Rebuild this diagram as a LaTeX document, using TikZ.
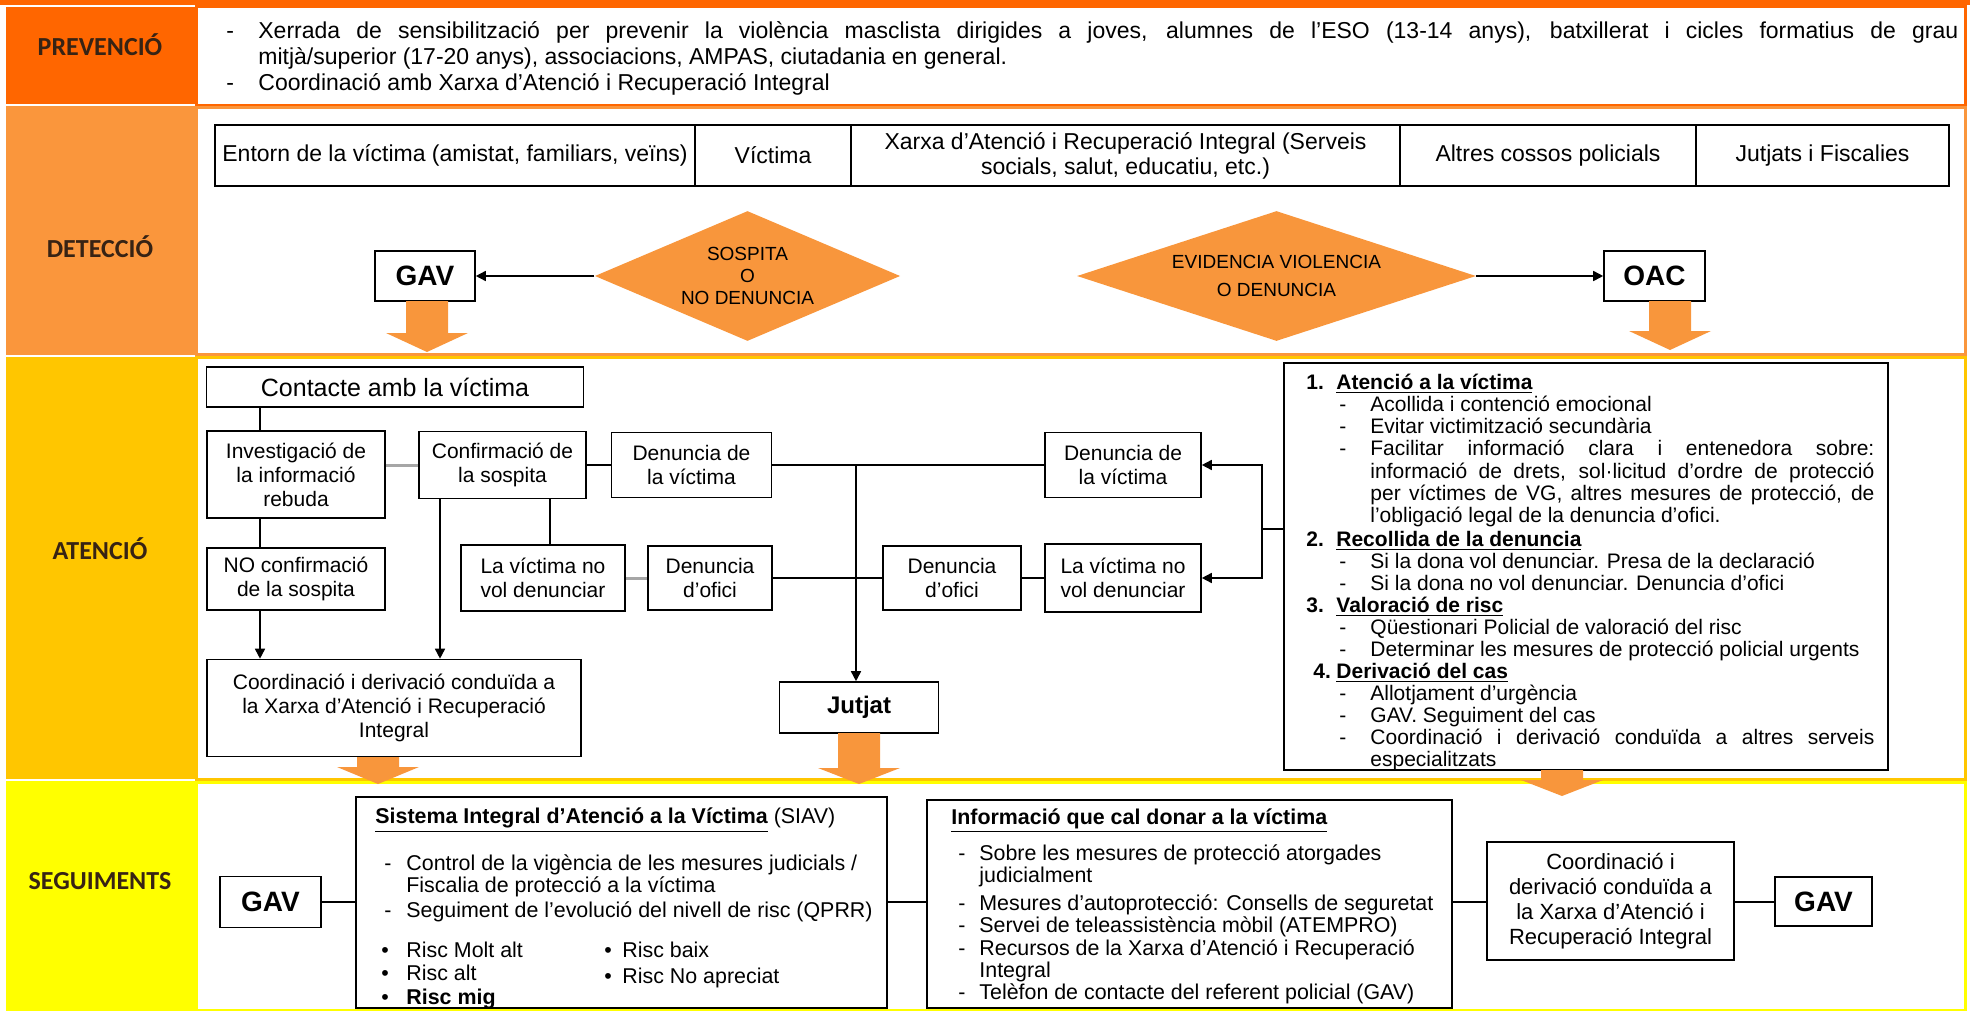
\documentclass[tikz,border=0pt]{standalone}
\usepackage{fontspec}
\setmainfont{Liberation Sans}
\newfontfamily\labelfont{Carlito}
\usepackage{tikz}
\usetikzlibrary{shapes.geometric,arrows.meta,positioning}

\definecolor{prevcol}{RGB}{255,102,0}
\definecolor{detcol}{RGB}{250,150,60}
\definecolor{atecol}{RGB}{255,198,0}
\definecolor{segcol}{RGB}{255,255,0}
\definecolor{boxorange}{RGB}{248,150,60}
\definecolor{labcol}{RGB}{55,35,20}

% x, top, start of head, tip
\newcommand{\blockarr}[4]{%
  \fill[boxorange] (#1-21,#2) -- (#1+21,#2) -- (#1+21,#3) -- (#1+41,#3)
    -- (#1,#4) -- (#1-41,#3) -- (#1-21,#3) -- cycle;}

\begin{document}
\begin{tikzpicture}[
  x=0.5pt, y=-0.5pt,
  band/.style={line width=1.5pt},
  lab/.style={font=\labelfont\bfseries\fontsize{13}{15}\selectfont, text=labcol},
  sz/.style 2 args={minimum width=#1*0.5pt, minimum height=#2*0.5pt},
  box/.style={draw, line width=0.8pt, inner sep=0pt, align=center, font=\fontsize{10.5}{12}\selectfont},
  cell/.style={box, font=\fontsize{11.5}{12.5}\selectfont},
  gavbox/.style={box, font=\bfseries\fontsize{14}{16}\selectfont},
  dec/.style={diamond, aspect=3, fill=boxorange, inner sep=0pt, align=center, font=\fontsize{9.5}{11}\selectfont},
  txt/.style={inner sep=0pt, align=left, font=\fontsize{10.7}{11}\selectfont},
  tab/.style={inner sep=0pt, font=\fontsize{10.7}{11}\selectfont},
  con/.style={line width=0.8pt},
  arr/.style={con, -{Triangle[length=5pt,width=5pt]}},
  greyline/.style={line width=1.5pt, gray!70},
]
\useasboundingbox (0,0) rectangle (1970,1011);

% bands
\fill[prevcol] (0,0) rectangle (1970,5);
\fill[prevcol] (6,7) rectangle (195,104);
\fill[detcol] (6,106) rectangle (195,355);
\fill[atecol] (6,357) rectangle (195,779);
\fill[segcol] (6,781) rectangle (195,1011);
\draw[band, prevcol] (196,7) rectangle (1965,106);
\draw[band, detcol] (196,108) rectangle (1965,354);
\draw[band, atecol] (196,357) rectangle (1965,779);
\draw[band, segcol] (196,782) rectangle (1965,1010);

\node[lab] (prev) at (100,45) {PREVENCIÓ};
\node[lab] (det) at (100,247) {DETECCIÓ};
\node[lab] (ate) at (100,549) {ATENCIÓ};
\node[lab] (seg) at (100,881) {SEGUIMENTS};

% prevencio
\node[tab, anchor=north west, font=\fontsize{11.5}{13}\selectfont] (prevtxt) at (226,20) {%
\begin{tabular}{@{}p{16pt}@{}l@{}}
- & \makebox[850pt][s]{Xerrada de sensibilització per prevenir la violència masclista dirigides a joves, alumnes de l’ESO (13-14 anys), batxillerat i cicles formatius de grau}\\
 & mitjà/superior (17-20 anys), associacions, AMPAS, ciutadania en general.\\
- & Coordinació amb Xarxa d’Atenció i Recuperació Integral
\end{tabular}};

% deteccio
\node[cell, sz={480}{61}] (entorn) at (455,155.5) {Entorn de la víctima (amistat, familiars, veïns)};
\node[cell, sz={156}{61}] (victd) at (773,155.5) {Víctima};
\node[cell, sz={549}{61}] (xarxad) at (1125.5,155.5) {Xarxa d’Atenció i Recuperació Integral (Serveis\\socials, salut, educatiu, etc.)};
\node[cell, sz={296}{61}] (altres) at (1548,155.5) {Altres cossos policials};
\node[cell, sz={253}{61}] (jutjats) at (1822.5,155.5) {Jutjats i Fiscalies};

\node[dec, sz={281}{130}] (sosp) at (747.5,276) {SOSPITA\\O\\NO DENUNCIA};
\node[dec, sz={399}{130}] (evid) at (1276.5,276) {EVIDENCIA VIOLENCIA\\[3pt]O DENUNCIA};
\node[gavbox, sz={100}{50}] (gav) at (425,276) {GAV};
\node[gavbox, sz={101}{50}] (oac) at (1654.5,276) {OAC};
\draw[arr] (sosp.west) -- (gav.east);
\draw[arr] (evid.east) -- (oac.west);
\blockarr{427}{301}{333}{352}
\blockarr{1670}{301}{331}{350}

% atencio
\node[box, sz={377}{40}, font=\fontsize{12.5}{14}\selectfont] (contacte) at (395,387) {Contacte amb la víctima};
\node[box, sz={178}{87}] (invest) at (296,474.5) {Investigació de\\la informació\\rebuda};
\node[box, sz={167}{67}] (confirm) at (502.5,465) {Confirmació de\\la sospita};
\node[box, sz={160}{65}] (denv1) at (691.5,465) {Denuncia de\\la víctima};
\node[box, sz={178}{62}] (noconf) at (296,579) {NO confirmació\\de la sospita};
\node[box, sz={164}{66}] (novol1) at (543,578) {La víctima no\\vol denunciar};
\node[box, sz={124}{64}] (ofici1) at (710,578) {Denuncia\\d’ofici};
\node[box, sz={374}{97}] (coord) at (394,708) {Coordinació i derivació conduïda a\\la Xarxa d’Atenció i Recuperació\\Integral};
\node[box, sz={159}{51}, font=\bfseries\fontsize{12}{14}\selectfont] (jutjat) at (859,707.5) {Jutjat};
\node[box, sz={138}{64}] (ofici2) at (952,578) {Denuncia\\d’ofici};
\node[box, sz={156}{65}] (denv2) at (1123,465) {Denuncia de\\la víctima};
\node[box, sz={156}{68}] (novol2) at (1123,578) {La víctima no\\vol denunciar};
\node[box, sz={604}{407}] (bigbox) at (1586,566.5) {};

\coordinate (xa) at (260,0);
\coordinate (xb) at (440,0);
\coordinate (xc) at (550,0);
\coordinate (xj) at (856,0);
\coordinate (br) at (1262,529);
\draw[con] (contacte.south -| xa) -- (invest.north -| xa);
\draw[con] (invest.south -| xa) -- (noconf.north -| xa);
\draw[arr] (noconf.south -| xa) -- (coord.north -| xa);
\draw[arr] (confirm.south -| xb) -- (coord.north -| xb);
\draw[con] (confirm.south -| xc) -- (novol1.north -| xc);
\draw[greyline] (invest.east |- confirm.west) -- (confirm.west);
\draw[con] (confirm.east) -- (denv1.west);
\draw[greyline] (novol1.east) -- (ofici1.west);
\draw[con] (denv1.east) -- (denv2.west);
\draw[con] (ofici1.east) -- (ofici2.west);
\draw[con] (ofici2.east) -- (novol2.west);
\draw[arr] (denv1.east -| xj) -- (jutjat.north -| xj);
\draw[con] (bigbox.west |- br) -- (br);
\draw[arr] (br) |- (denv2.east);
\draw[arr] (br) |- (novol2.east);

\node[tab, anchor=north west, font=\fontsize{10.5}{11}\selectfont] (bigtxt) at (1306,374) {%
\begin{tabular}{@{}p{15pt}@{}p{17pt}@{}l@{}}
\textbf{1.} & \multicolumn{2}{@{}l@{}}{\textbf{\underline{Atenció a la víctima}}}\\
 & \hspace*{1.5pt}- & Acollida i contenció emocional\\
 & \hspace*{1.5pt}- & Evitar victimització secundària\\
 & \hspace*{1.5pt}- & \makebox[252pt][s]{Facilitar informació clara i entenedora sobre:}\\
 & & \makebox[252pt][s]{informació de drets, sol·licitud d’ordre de protecció}\\
 & & \makebox[252pt][s]{per víctimes de VG, altres mesures de protecció, de}\\
 & & l’obligació legal de la denuncia d’ofici.\\[1pt]
\textbf{2.} & \multicolumn{2}{@{}l@{}}{\textbf{\underline{Recollida de la denuncia}}}\\
 & \hspace*{1.5pt}- & Si la dona vol denunciar. Presa de la declaració\\
 & \hspace*{1.5pt}- & Si la dona no vol denunciar. Denuncia d’ofici\\
\textbf{3.} & \multicolumn{2}{@{}l@{}}{\textbf{\underline{Valoració de risc}}}\\
 & \hspace*{1.5pt}- & Qüestionari Policial de valoració del risc\\
 & \hspace*{1.5pt}- & Determinar les mesures de protecció policial urgents\\
\hspace*{3.5pt}\textbf{4.} & \multicolumn{2}{@{}l@{}}{\textbf{\underline{Derivació del cas}}}\\
 & \hspace*{1.5pt}- & Allotjament d’urgència\\
 & \hspace*{1.5pt}- & GAV. Seguiment del cas\\
 & \hspace*{1.5pt}- & \makebox[252pt][s]{Coordinació i derivació conduïda a altres serveis}\\
 & & especialitzats
\end{tabular}};
\blockarr{378}{757}{767}{784}
\blockarr{859}{733}{768}{784}
\blockarr{1562}{770}{780}{796}

% seguiments
\node[gavbox, sz={101}{51}] (gav2) at (270.5,902) {GAV};
\node[box, sz={531}{211}] (siav) at (621.5,902.5) {};
\node[box, sz={525}{208}] (info) at (1189.5,904) {};
\node[box, sz={247}{118}, font=\fontsize{11}{12.5}\selectfont] (coord2) at (1610.5,901) {Coordinació i\\derivació conduïda a\\la Xarxa d’Atenció i\\Recuperació Integral};
\node[gavbox, sz={97}{49}] (gav3) at (1823.5,901.5) {GAV};
\coordinate (ys) at (0,902);
\draw[con] (gav2.east |- ys) -- (siav.west |- ys);
\draw[con] (siav.east |- ys) -- (info.west |- ys);
\draw[con] (info.east |- ys) -- (coord2.west |- ys);
\draw[con] (coord2.east |- ys) -- (gav3.west |- ys);

\node[txt, anchor=west] (siavtitle) at (375,820) {\textbf{\underline{Sistema Integral d’Atenció a la Víctima}} (SIAV)};
\node[tab, anchor=north west] (siavlist) at (384,854) {%
\begin{tabular}{@{}p{11pt}@{}l@{}}
- & Control de la vigència de les mesures judicials /\\
 & Fiscalia de protecció a la víctima\\[1.5pt]
- & Seguiment de l’evolució del nivell de risc (QPRR)
\end{tabular}};
\node[tab, anchor=north west] (risc1) at (381,942) {%
\begin{tabular}{@{}p{12.5pt}@{}l@{}}
\textbullet & Risc Molt alt\\
\textbullet & Risc alt\\[1pt]
\textbullet & \textbf{Risc mig}
\end{tabular}};
\node[tab, anchor=north west] (risc2) at (604,942) {%
\begin{tabular}{@{}p{9pt}@{}l@{}}
\textbullet & Risc baix\\[1.5pt]
\textbullet & Risc No apreciat
\end{tabular}};

\node[txt, anchor=west] (infotitle) at (951,821) {\textbf{\underline{Informació que cal donar a la víctima}}};
\node[tab, anchor=north west] (infolist) at (958,844) {%
\begin{tabular}{@{}p{10.5pt}@{}l@{}}
- & Sobre les mesures de protecció atorgades\\
 & judicialment\\[3pt]
- & Mesures d’autoprotecció: Consells de seguretat\\
- & Servei de teleassistència mòbil (ATEMPRO)\\
- & Recursos de la Xarxa d’Atenció i Recuperació\\
 & Integral\\
- & Telèfon de contacte del referent policial (GAV)
\end{tabular}};
\end{tikzpicture}
\end{document}
